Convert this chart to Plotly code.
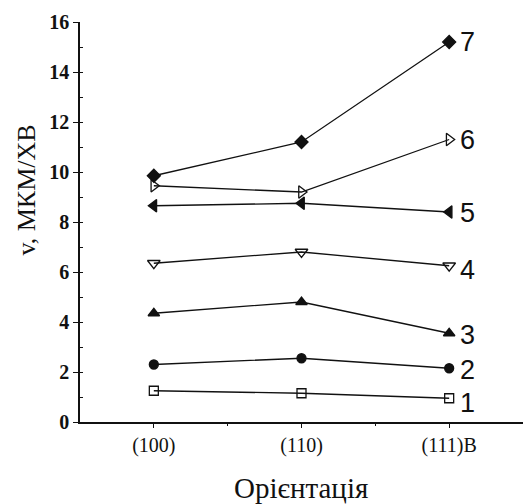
import plotly.graph_objects as go

orientations = ["(100)", "(110)", "(111)B"]
series_labels = ["1", "2", "3", "4", "5", "6", "7"]
s1 = [1.25, 1.15, 0.95]
s2 = [2.3, 2.55, 2.15]
s3 = [4.35, 4.8, 3.55]
s4 = [6.35, 6.8, 6.25]
s5 = [8.65, 8.75, 8.4]
s6 = [9.45, 9.2, 11.3]
s7 = [9.85, 11.2, 15.2]
series = [s1, s2, s3, s4, s5, s6, s7]
symbols = ["square-open", "circle", "triangle-up", "triangle-down-open",
           "triangle-left", "triangle-right-open", "diamond"]
sizes = [9, 9, 10, 11, 11, 11, 10]
label_shift = [-5, -2, -2, -4, -1, 0, 0]

SERIF = "Liberation Serif, Times New Roman, serif"
SANS = "Liberation Sans, Arial, sans-serif"
INK = "#111111"

xpos = list(range(len(orientations)))
fig = go.Figure()
for vals, sym, sz in zip(series, symbols, sizes):
    fig.add_trace(go.Scatter(
        x=xpos, y=vals, mode="lines+markers",
        line=dict(color=INK, width=1.3),
        marker=dict(symbol=sym, size=sz, color=INK,
                    line=dict(color=INK, width=1.3)),
        showlegend=False, cliponaxis=False))

# invisible trace to hold the minor-tick overlay axes
fig.add_trace(go.Scatter(x=[xpos[0]], y=[s1[0]], xaxis="x2", yaxis="y2",
                         mode="markers", marker=dict(opacity=0),
                         showlegend=False, hoverinfo="skip"))

for lab, vals, ys in zip(series_labels, series, label_shift):
    fig.add_annotation(x=xpos[-1], y=vals[-1], text=lab, showarrow=False,
                       xanchor="left", xshift=9, yshift=ys,
                       font=dict(family=SANS, size=27, color=INK))

fig.add_annotation(xref="paper", yref="paper", x=-0.16, y=0.58, text="v, МКМ/ХВ",
                   textangle=-90, showarrow=False,
                   font=dict(family=SERIF, size=26, color=INK))

fig.add_annotation(xref="paper", yref="paper", x=0.498, y=-0.165, yanchor="middle",
                   text="Орієнтація", showarrow=False,
                   font=dict(family=SERIF, size=29, color=INK))

fig.update_layout(
    width=523, height=504,
    margin=dict(l=80, r=0, t=22, b=82),
    plot_bgcolor="white", paper_bgcolor="white",
    xaxis=dict(range=[-0.5, 2.5], tickvals=xpos, ticktext=orientations,
               showgrid=False, zeroline=False, showline=True, linecolor=INK,
               linewidth=1.5, ticks="outside", ticklen=4, tickcolor=INK,
               tickfont=dict(family=SERIF, size=20, color=INK)),
    yaxis=dict(range=[0, 16], tickvals=[0, 2, 4, 6, 8, 10, 12, 14, 16],
               showgrid=False, zeroline=False, showline=True, linecolor=INK,
               linewidth=1.5, ticks="outside", ticklen=5, tickcolor=INK,
               tickfont=dict(family=SERIF, size=20, color=INK, weight="bold")),
    xaxis2=dict(overlaying="x", anchor="y", range=[-0.5, 2.5], tickvals=[0.5, 1.5],
                showticklabels=False, showgrid=False, zeroline=False, showline=False,
                ticks="outside", ticklen=3, tickcolor=INK),
    yaxis2=dict(overlaying="y", anchor="x", side="left", range=[0, 16], dtick=1,
                showticklabels=False, showgrid=False, zeroline=False, showline=False,
                ticks="inside", ticklen=3, tickcolor=INK),
)
fig.write_html("out.html")
